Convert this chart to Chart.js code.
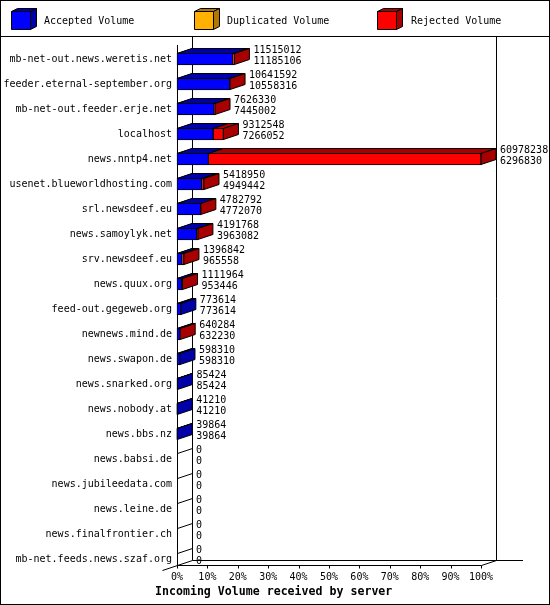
<!DOCTYPE html>
<html>
<head>
<meta charset="utf-8">
<script src="https://cdn.jsdelivr.net/npm/chart.js@4.4.1/dist/chart.umd.min.js"></script>
<style>
html,body{margin:0;padding:0;background:#fff;}
#wrap{width:550px;height:605px;position:relative;}
</style>
</head>
<body>
<div id="wrap"><canvas id="c"></canvas></div>
<script>
// ---- data ----
const hosts = [
  "mb-net-out.news.weretis.net","feeder.eternal-september.org","mb-net-out.feeder.erje.net",
  "localhost","news.nntp4.net","usenet.blueworldhosting.com","srl.newsdeef.eu",
  "news.samoylyk.net","srv.newsdeef.eu","news.quux.org","feed-out.gegeweb.org",
  "newnews.mind.de","news.swapon.de","news.snarked.org","news.nobody.at","news.bbs.nz",
  "news.babsi.de","news.jubileedata.com","news.leine.de","news.finalfrontier.ch",
  "mb-net.feeds.news.szaf.org"
];
const offered = [11515012,10641592,7626330,9312548,60978238,5418950,4782792,4191768,1396842,1111964,773614,640284,598310,85424,41210,39864,0,0,0,0,0];
const accepted = [11185106,10558316,7445002,7266052,6296830,4949442,4772070,3963082,965558,953446,773614,632230,598310,85424,41210,39864,0,0,0,0,0];
const duplicated = [0,0,0,0,0,0,0,0,0,0,0,0,0,0,0,0,0,0,0,0,0];
const rejected = [329906,83276,181328,2046496,54681408,469508,10722,228686,431284,158518,0,8054,0,0,0,0,0,0,0,0,0];
const tickValues = [0,10,20,30,40,50,60,70,80,90,100];
const seriesNames = ["Accepted Volume","Duplicated Volume","Rejected Volume"];
const xTitle = "Incoming Volume received by server";

const maxVol = Math.max(...offered);
const pct = arr => arr.map(v => v / maxVol * 100);

const FRONT = ["#0000FF","#FFB000","#FF0000"];
const DARK  = ["#0000A8","#B07800","#A80000"];
const DX = 15, DY = 5;
const FONT = "10px 'DejaVu Sans Mono', monospace";

function poly(ctx, pts, fill){
  ctx.beginPath();
  ctx.moveTo(pts[0][0], pts[0][1]);
  for (let i=1;i<pts.length;i++) ctx.lineTo(pts[i][0], pts[i][1]);
  ctx.closePath();
  ctx.fillStyle = fill; ctx.fill();
  ctx.strokeStyle = "#000"; ctx.lineWidth = 1; ctx.stroke();
}
function line(ctx,x1,y1,x2,y2){
  ctx.beginPath(); ctx.moveTo(x1,y1); ctx.lineTo(x2,y2);
  ctx.strokeStyle="#000"; ctx.lineWidth=1; ctx.stroke();
}

const deco = {
  id: 'deco',
  beforeDraw(chart){
    const ctx = chart.ctx, W = chart.width, H = chart.height;
    ctx.save();
    ctx.fillStyle = "#fff"; ctx.fillRect(0,0,W,H);
    ctx.strokeStyle = "#000"; ctx.lineWidth = 1;
    ctx.strokeRect(0.5,0.5,W-1,H-1);
    line(ctx,0,36.5,W,36.5);
    // legend cubes
    const lx = [11,194,377], tx = [44,227,411];
    for (let k=0;k<3;k++){
      const x = lx[k]+0.5, y = 11.5, w = 19, h = 18;
      poly(ctx, [[x,y],[x+w,y],[x+w+6,y-3],[x+6,y-3]], DARK[k]);
      poly(ctx, [[x+w,y],[x+w+6,y-3],[x+w+6,y+h-3],[x+w,y+h]], DARK[k]);
      poly(ctx, [[x,y],[x+w,y],[x+w,y+h],[x,y+h]], FRONT[k]);
      ctx.fillStyle = "#000"; ctx.font = FONT; ctx.textBaseline = "middle"; ctx.textAlign = "left";
      ctx.fillText(seriesNames[k], tx[k], 21);
    }
    ctx.restore();
  },
  beforeDatasetsDraw(chart){
    const ctx = chart.ctx, xs = chart.scales.x, ys = chart.scales.y;
    const L = xs.getPixelForValue(0), R = xs.getPixelForValue(100);
    const fb = 565.5;
    ctx.save();
    const l = Math.round(L)+0.5, r = Math.round(R)+0.5;
    // back walls
    line(ctx, l+DX, 37, l+DX, fb-DY);
    line(ctx, r+DX, 37, r+DX, fb-DY);
    line(ctx, l+DX, fb-DY, 523, fb-DY);
    // front axes
    line(ctx, l, 45, l, fb);
    line(ctx, l, fb, r, fb);
    line(ctx, l+DX, fb-DY, l+DX-30, fb-DY+10);
    line(ctx, r, fb, r+DX, fb-DY);
    // x ticks
    tickValues.forEach(v => {
      const px = Math.round(xs.getPixelForValue(v))+0.5;
      line(ctx, px, fb, px, fb+3);
    });
    // hatch lines on the left wall
    hosts.forEach((h,i) => {
      const yc = ys.getPixelForValue(i);
      const yt = Math.round(yc - 6) + 0.5;
      line(ctx, l, yt, l+DX, yt-DY);
    });
    ctx.restore();
  },
  afterDatasetsDraw(chart){
    const ctx = chart.ctx, xs = chart.scales.x;
    const metas = [0,1,2].map(k => chart.getDatasetMeta(k));
    ctx.save();
    hosts.forEach((h,i) => {
      let endX = xs.getPixelForValue(0), last = -1, yT = 0, yB = 0, yc = 0;
      for (let k=0;k<3;k++){
        const el = metas[k].data[i];
        const p = el.getProps(['x','y','base','height'], true);
        yc = p.y; yT = Math.round(p.y - p.height/2)+0.5; yB = Math.round(p.y + p.height/2)-0.5;
        const x0 = Math.min(p.x,p.base), x1 = Math.max(p.x,p.base);
        if (x1 - x0 > 0.01){
          poly(ctx, [[x0,yT],[x1,yT],[x1+DX,yT-DY],[x0+DX,yT-DY]], DARK[k]);
          endX = x1; last = k;
        }
      }
      if (last >= 0){
        poly(ctx, [[endX,yT],[endX+DX,yT-DY],[endX+DX,yB-DY],[endX,yB]], DARK[last]);
      }
      ctx.fillStyle = "#000"; ctx.font = FONT; ctx.textAlign = "left"; ctx.textBaseline = "middle";
      ctx.fillText(String(offered[i]), endX + DX + 4, yc - 9);
      ctx.fillText(String(accepted[i]), endX + DX + 4, yc + 2);
    });
    ctx.restore();
  },
  afterDraw(chart){
    const ctx = chart.ctx;
    ctx.save();
    ctx.fillStyle = "#000";
    ctx.font = "bold 11.6px 'DejaVu Sans Mono', monospace";
    ctx.textAlign = "left"; ctx.textBaseline = "middle";
    ctx.fillText(xTitle, 155, 592);
    ctx.restore();
  }
};

new Chart(document.getElementById('c'), {
  type: 'bar',
  data: {
    labels: hosts,
    datasets: [
      { label: seriesNames[0], data: pct(accepted), backgroundColor: FRONT[0] },
      { label: seriesNames[1], data: pct(duplicated), backgroundColor: FRONT[1] },
      { label: seriesNames[2], data: pct(rejected), backgroundColor: FRONT[2] }
    ]
  },
  options: {
    indexAxis: 'y',
    responsive: true,
    maintainAspectRatio: false,
    devicePixelRatio: 1,
    animation: false,
    events: [],
    layout: { padding: { top: 59, right: 69, left: 0, bottom: 0 } },
    datasets: { bar: { barThickness: 12, borderWidth: 1, borderColor: '#000', borderSkipped: false, clip: false } },
    plugins: { legend: { display: false }, title: { display: false }, tooltip: { enabled: false } },
    scales: {
      x: {
        stacked: true, min: 0, max: 100,
        grid: { display: false, drawTicks: false },
        border: { display: false },
        afterBuildTicks: s => { s.ticks = tickValues.map(v => ({ value: v })); },
        afterFit: s => { s.height = 46; },
        ticks: { padding: 12, color: '#000', font: { family: "'DejaVu Sans Mono', monospace", size: 10 }, callback: v => v + '%', maxRotation: 0, autoSkip: false }
      },
      y: {
        stacked: true, offset: false,
        grid: { display: false, drawTicks: false },
        border: { display: false },
        afterFit: s => { s.width = 177; },
        ticks: { padding: 5, color: '#000', autoSkip: false, font: { family: "'DejaVu Sans Mono', monospace", size: 10 } }
      }
    }
  },
  plugins: [deco]
});
</script>
</body>
</html>
